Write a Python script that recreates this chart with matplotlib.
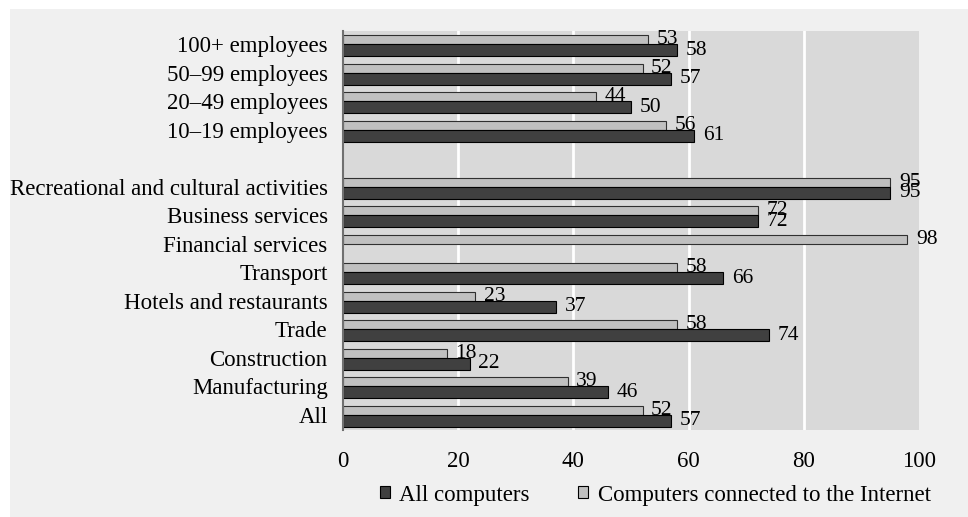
import matplotlib.pyplot as plt
from matplotlib.patches import Rectangle
import numpy as np

plt.rcParams['font.family'] = ['Liberation Serif', 'DejaVu Serif']

# Data, bottom to top (None = no value)
categories = ['All', 'Manufacturing', 'Construction', 'Trade', 'Hotels and restaurants',
              'Transport', 'Financial services', 'Business services',
              'Recreational and cultural activities',
              '10\u201319 employees', '20\u201349 employees', '50\u201399 employees',
              '100+ employees']
positions = [0, 1, 2, 3, 4, 5, 6, 7, 8, 10, 11, 12, 13]
all_computers = [57, 46, 22, 74, 37, 66, None, 72, 95, 61, 50, 57, 58]
internet = [52, 39, 18, 58, 23, 58, 98, 72, 95, 56, 44, 52, 53]

dark = '#404040'
light = '#c0c0c0'
fs = 16.5
fs_val = 15.5

fig = plt.figure(figsize=(9.68, 5.17), dpi=100)
fig.patch.set_facecolor('white')
fig.patches.append(Rectangle((10 / 968, 0), 1, 1 - 9 / 517, transform=fig.transFigure,
                             facecolor='#f0f0f0', edgecolor='none', zorder=-10))

ax = fig.add_axes([343 / 968, 1 - 430 / 517, 576 / 968, 399 / 517])
ax.set_facecolor('#d9d9d9')

h_light = 0.32
h_dark = 0.42
for y, a, b in zip(positions, all_computers, internet):
    if b is not None:
        ax.barh(y, b, height=h_light, align='edge', color=light, edgecolor='#303030',
                linewidth=0.8, zorder=3)
        ax.text(b + 1.5, y + h_light / 2, str(b), va='center', ha='left', fontsize=fs_val)
    if a is not None:
        ax.barh(y, a, height=-h_dark, align='edge', color=dark, edgecolor='black',
                linewidth=0.8, zorder=3)
        ax.text(a + 1.5, y - h_dark / 2, str(a), va='center', ha='left', fontsize=fs_val)

ax.set_xlim(0, 100)
ax.set_ylim(-0.53, 13.47)
ax.set_xticks([0, 20, 40, 60, 80, 100])
ax.set_yticks(positions)
ax.set_yticklabels(categories)
ax.tick_params(axis='x', length=0, pad=15, labelsize=fs)
ax.tick_params(axis='y', length=0, pad=11, labelsize=fs)

for x in [20, 40, 60, 80]:
    ax.axvline(x, color='white', linewidth=2, zorder=1)

for s in ['top', 'right', 'bottom']:
    ax.spines[s].set_visible(False)
ax.spines['left'].set_color('#707070')
ax.spines['left'].set_linewidth(1.5)
ax.spines['left'].set_zorder(4)

handles = [Rectangle((0, 0), 1, 1, facecolor=dark, edgecolor='black', linewidth=0.8),
           Rectangle((0, 0), 1, 1, facecolor=light, edgecolor='black', linewidth=0.8)]
fig.legend(handles, ['All computers', 'Computers connected to the Internet'],
           loc='center right', bbox_to_anchor=(942 / 968, 1 - 495 / 517), ncol=2,
           frameon=False, fontsize=fs, handlelength=0.45, handleheight=0.45,
           handletextpad=0.4, columnspacing=2.1, borderpad=0)

fig.savefig('out.png', dpi=100)
